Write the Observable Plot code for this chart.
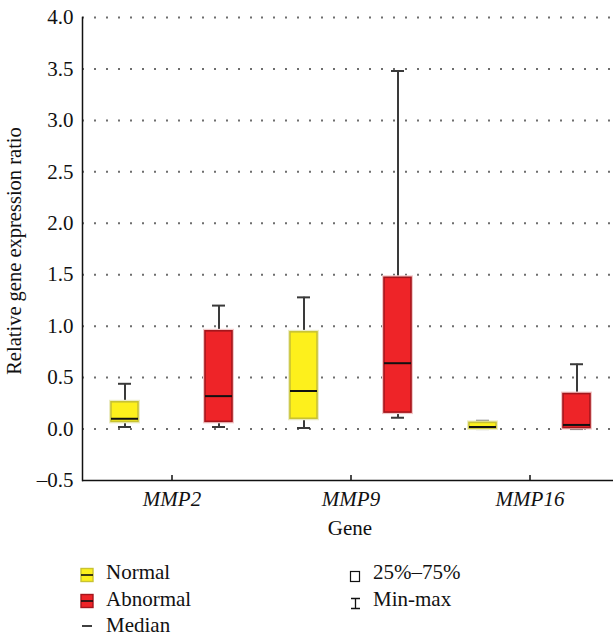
<!DOCTYPE html>
<html>
<head>
<meta charset="utf-8">
<script src="https://cdn.jsdelivr.net/npm/d3@7"></script>
<script src="https://cdn.jsdelivr.net/npm/@observablehq/plot@0.6"></script>
<style>
  body { margin: 0; background: #fff; font-family: "Liberation Serif", serif; color: #111; }
  #chart, #legend { width: 613px; display: block; }
  svg text { font-family: "Liberation Serif", serif; }
</style>
</head>
<body>
<div id="chart"></div>
<div id="legend"></div>
<script>
// ---- data ----
const genes = ["MMP2", "MMP9", "MMP16"];
const groups = ["Normal", "Abnormal"];
const normalMin    = [0.02, 0.01, 0.00];
const normalQ1     = [0.07, 0.10, 0.005];
const normalMedian = [0.10, 0.37, 0.02];
const normalQ3     = [0.26, 0.94, 0.06];
const normalMax    = [0.44, 1.28, 0.08];
const abnormalMin    = [0.02, 0.11, 0.00];
const abnormalQ1     = [0.07, 0.16, 0.01];
const abnormalMedian = [0.32, 0.64, 0.04];
const abnormalQ3     = [0.95, 1.47, 0.34];
const abnormalMax    = [1.20, 3.48, 0.63];
const yTicks = [-0.5, 0, 0.5, 1.0, 1.5, 2.0, 2.5, 3.0, 3.5, 4.0];
const fills = ["#FDF01C", "#EE2428"];
const strokes = ["#C8C232", "#A5161C"];
const halos = ["#ECECC4", "#F2C8C8"];

const rows = [];
genes.forEach((g, i) => {
  rows.push({gene: g, group: "Normal", min: normalMin[i], q1: normalQ1[i], median: normalMedian[i], q3: normalQ3[i], max: normalMax[i]});
  rows.push({gene: g, group: "Abnormal", min: abnormalMin[i], q1: abnormalQ1[i], median: abnormalMedian[i], q3: abnormalQ3[i], max: abnormalMax[i]});
});

const fmt = d => d3.format(".1f")(d).replace("−", "–").replace("-", "–");

const boxMarks = [];
groups.forEach((grp, i) => {
  const data = rows.filter(r => r.group === grp);
  boxMarks.push(
    Plot.ruleX(data, {fx: "gene", x: "group", y1: "min", y2: "max", stroke: "#3a3a3a", strokeWidth: 2}),
    Plot.tickY(data, {fx: "gene", x: "group", y: "min", stroke: "#3a3a3a", strokeWidth: 2, insetLeft: 7, insetRight: 7}),
    Plot.tickY(data, {fx: "gene", x: "group", y: "max", stroke: "#3a3a3a", strokeWidth: 2, insetLeft: 7, insetRight: 7}),
    Plot.barY(data, {fx: "gene", x: "group", y1: "q1", y2: "q3", fill: "none", stroke: halos[i], strokeWidth: 4}),
    Plot.barY(data, {fx: "gene", x: "group", y1: "q1", y2: "q3", fill: fills[i], stroke: strokes[i], strokeWidth: 1.6}),
    Plot.tickY(data, {fx: "gene", x: "group", y: "median", stroke: "#111", strokeWidth: 2})
  );
});

const plot = Plot.plot({
  width: 613,
  height: 545,
  marginTop: 17,
  marginBottom: 65,
  marginLeft: 81,
  marginRight: -6,
  style: {fontFamily: "Liberation Serif, serif", fontSize: "20px", color: "#111", background: "white", overflow: "visible"},
  fx: {domain: genes, padding: 0, label: null},
  x: {domain: groups, paddingInner: 0.716, paddingOuter: 0.303, axis: null},
  y: {domain: [-0.5, 4], label: null},
  marks: [
    Plot.gridY(yTicks.filter(t => t > -0.5), {stroke: "#6e6e6e", strokeOpacity: 1, strokeWidth: 2, strokeDasharray: "2,10"}),
    Plot.ruleY([-0.5], {stroke: "#111", strokeWidth: 1.5}),
    Plot.frame({anchor: "left", facetAnchor: "left", stroke: "#111", strokeWidth: 1.5}),
    Plot.axisY(yTicks, {anchor: "left", tickSize: 0, tickPadding: 9, tickFormat: fmt, fontSize: 21, label: null}),
    Plot.axisFx({anchor: "bottom", tickSize: 0, tickPadding: 11, fontStyle: "italic", fontSize: 21, label: null}),
    Plot.axisFx({anchor: "bottom", tickSize: 5, dy: -5, tickFormat: () => "", stroke: "#111", strokeWidth: 1.5, label: null}),
    ...boxMarks
  ]
});

const svg = d3.select(plot);
svg.selectAll("[aria-label='y-axis tick label'] text")
  .style("font-size", "21px")
  .style("font-family", "'Liberation Serif', serif");
svg.append("text")
  .attr("transform", "translate(21,251) rotate(-90)")
  .attr("text-anchor", "middle")
  .attr("font-size", 20.5)
  .attr("fill", "#111")
  .text("Relative gene expression ratio");
svg.append("text")
  .attr("x", 350)
  .attr("y", 535)
  .attr("text-anchor", "middle")
  .attr("font-size", 21)
  .attr("fill", "#111")
  .text("Gene");

document.getElementById("chart").appendChild(plot);

// ---- legend ----
const lg = d3.select("#legend").append("svg").attr("width", 613).attr("height", 92)
  .style("display", "block").attr("font-size", 21).attr("fill", "#111");
const legendItems = [
  {label: groups[0], tx: 106, ty: 33.5},
  {label: groups[1], tx: 106, ty: 60.5},
  {label: "Median", tx: 106, ty: 86.5},
  {label: "25%–75%", tx: 373, ty: 33.5},
  {label: "Min-max", tx: 373, ty: 60.5}
];
legendItems.forEach(it => lg.append("text").attr("x", it.tx).attr("y", it.ty).text(it.label));
// swatches
[0, 1].forEach(i => {
  const y0 = i === 0 ? 23.5 : 49.5;
  lg.append("rect").attr("x", 81).attr("y", y0).attr("width", 12).attr("height", 13)
    .attr("fill", fills[i]).attr("stroke", strokes[i]).attr("stroke-width", 1.4);
  lg.append("line").attr("x1", 81).attr("x2", 93).attr("y1", y0 + 6.5).attr("y2", y0 + 6.5)
    .attr("stroke", "#111").attr("stroke-width", 1.6);
});
lg.append("line").attr("x1", 82).attr("x2", 92).attr("y1", 81).attr("y2", 81).attr("stroke", "#111").attr("stroke-width", 1.6);
lg.append("rect").attr("x", 350.5).attr("y", 26.5).attr("width", 9).attr("height", 10)
  .attr("fill", "white").attr("stroke", "#111").attr("stroke-width", 1.2);
lg.append("path").attr("d", "M351,53.5H360M355.5,53.5V63.5M351,63.5H360")
  .attr("fill", "none").attr("stroke", "#111").attr("stroke-width", 1.3);
</script>
</body>
</html>
